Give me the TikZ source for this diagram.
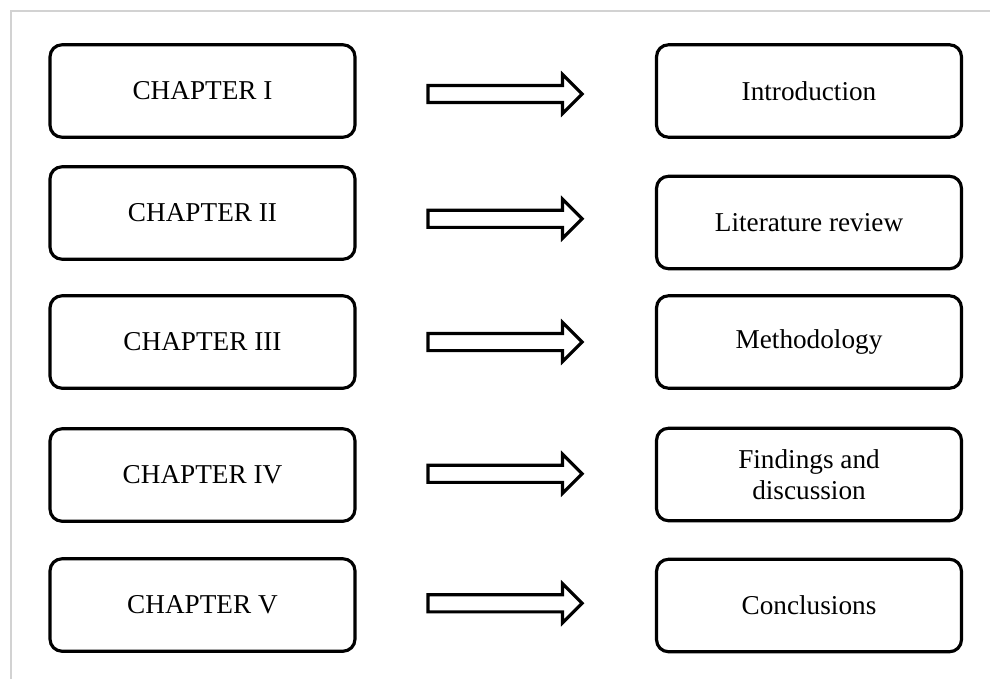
\documentclass[tikz,border=0pt]{standalone}
\usepackage{fontspec}
\setmainfont{Liberation Serif}
\usetikzlibrary{calc,shapes.arrows}
\tikzset{%
	chapter/.style    = {draw, rectangle, rounded corners=0.24cm, line width=1.8pt, minimum width=6.1cm, minimum height=1.85cm, text centered, align=center, font=\fontsize{15.5}{17.6}\selectfont},
	blockarrow/.style = {draw, single arrow, line width=1.8pt, minimum height=3.08cm, inner sep=0pt, text height=0.28cm, text depth=0pt, single arrow head extend=0.22cm},
	pageedge/.style   = {gray!35, line width=1.2pt},
}

\begin{document}
\begin{tikzpicture}[x=0.02cm,y=-0.02cm]
			\useasboundingbox (0,0) rectangle (990,679);
			\draw[pageedge] (11,679) -- (11,11) -- (990,11);
			
			\node[chapter] (c1) at (202.5,91) {CHAPTER I};
			\node[chapter] (c2) at (202.5,213) {CHAPTER II};
			\node[chapter] (c3) at (202.5,342) {CHAPTER III};
			\node[chapter] (c4) at (202.5,475) {CHAPTER IV};
			\node[chapter] (c5) at (202.5,605) {CHAPTER V};
			
			\node[chapter] (t1) at (809,91) {Introduction};
			\node[chapter] (t2) at (809,222.5) {Literature review};
			\node[chapter] (t3) at (809,342) {Methodology};
			\node[chapter] (t4) at (809,474.5) {Findings and\\discussion};
			\node[chapter] (t5) at (809,605.5) {Conclusions};
			
			\node[blockarrow] (a1) at ($(c1.east)!0.5!(t1.west)+(-5,3)$) {};
			\node[blockarrow] (a2) at ($(c2.east)!0.5!(t2.west)+(-5,1)$) {};
			\node[blockarrow] (a3) at ($(c3.east)!0.5!(t3.west)+(-5,0)$) {};
			\node[blockarrow] (a4) at ($(c4.east)!0.5!(t4.west)+(-5,-1)$) {};
			\node[blockarrow] (a5) at ($(c5.east)!0.5!(t5.west)+(-5,-2)$) {};
		\end{tikzpicture}
\end{document}
